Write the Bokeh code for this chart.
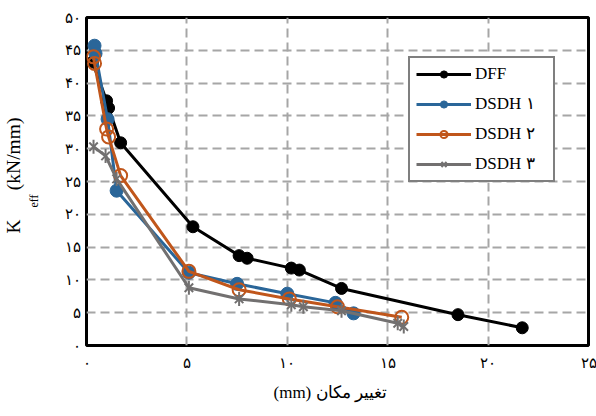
from bokeh.plotting import figure
from bokeh.models import Title, FixedTicker
from bokeh.embed import file_html
from bokeh.resources import INLINE

# ---- data ----
dff_x = [0.3, 1.0, 1.1, 1.7, 5.3, 7.6, 8.0, 10.2, 10.6, 12.7, 18.5, 21.7]
dff_y = [43.2, 37.3, 36.2, 30.9, 18.1, 13.7, 13.3, 11.8, 11.5, 8.7, 4.7, 2.7]

d1_x = [0.4, 0.45, 1.05, 1.5, 5.1, 7.5, 10.0, 12.4, 13.3]
d1_y = [45.7, 44.5, 34.5, 23.6, 11.1, 9.4, 7.9, 6.5, 4.9]

d2_x = [0.35, 0.4, 1.0, 1.1, 1.7, 5.1, 7.6, 10.1, 12.5, 15.7]
d2_y = [44.0, 43.0, 33.0, 31.8, 25.9, 11.3, 8.5, 7.1, 5.9, 4.3]

d3_x = [0.35, 0.95, 1.5, 5.1, 7.6, 10.2, 10.8, 12.7, 15.5, 15.8]
d3_y = [30.3, 28.9, 25.4, 8.8, 7.1, 6.2, 5.9, 5.3, 3.4, 2.9]

series_names = ["DFF", "DSDH ۱", "DSDH ۲", "DSDH ۳"]

x_ticks = [0, 5, 10, 15, 20, 25]
x_tick_labels = ["۰", "۵", "۱۰", "۱۵", "۲۰", "۲۵"]
y_ticks = [0, 5, 10, 15, 20, 25, 30, 35, 40, 45, 50]
y_tick_labels = ["۰", "۵", "۱۰", "۱۵", "۲۰", "۲۵", "۳۰", "۳۵", "۴۰", "۴۵", "۵۰"]

x_title = "(mm) تغییر مکان"
y_title_main = "K\u00a0\u00a0\u00a0\u00a0\u00a0\u00a0(kN/mm)"
y_title_sub = "eff" + "\u00a0" * 13

SERIF = "Liberation Serif"

p = figure(width=596, height=416, x_range=(0, 25), y_range=(0, 50),
           output_backend="svg", toolbar_location=None,
           min_border_left=86, min_border_right=8, min_border_top=17, min_border_bottom=71)

p.background_fill_color = "white"
p.outline_line_color = "black"
p.outline_line_width = 3

for ax in (p.xaxis[0], p.yaxis[0]):
    ax.axis_line_color = None
    ax.major_tick_line_color = None
    ax.minor_tick_line_color = None
    ax.major_tick_out = 0
    ax.major_tick_in = 0
    ax.major_label_text_font = SERIF
    ax.major_label_text_font_size = "15px"
    ax.major_label_text_color = "black"

p.xaxis.ticker = FixedTicker(ticks=x_ticks)
p.xaxis.major_label_overrides = dict(zip(x_ticks, x_tick_labels))
p.xaxis.major_label_standoff = 9
p.yaxis.ticker = FixedTicker(ticks=y_ticks)
p.yaxis.major_label_overrides = dict(zip(y_ticks, y_tick_labels))
p.yaxis.major_label_standoff = 6

# subscript of the y title sits in the axis-label slot, next to the tick labels
p.yaxis.axis_label = y_title_sub
p.yaxis.axis_label_text_font = SERIF
p.yaxis.axis_label_text_font_size = "12px"
p.yaxis.axis_label_text_font_style = "normal"
p.yaxis.axis_label_text_color = "black"
p.yaxis.axis_label_text_baseline = "top"
p.yaxis.axis_label_standoff = 21

for g in (p.xgrid[0], p.ygrid[0]):
    g.grid_line_color = "#a6a6a6"
    g.grid_line_width = 2
    g.grid_line_dash = "9 5"

# series
p.line(dff_x, dff_y, line_color="black", line_width=3, legend_label=series_names[0])
p.scatter(dff_x, dff_y, marker="circle", size=12, fill_color="black", line_color="black",
          legend_label=series_names[0])

blue = "#2a6699"
p.line(d1_x, d1_y, line_color=blue, line_width=3, legend_label=series_names[1])
p.scatter(d1_x, d1_y, marker="circle", size=13, fill_color=blue, line_color=blue,
          legend_label=series_names[1])

orange = "#c0561b"
p.line(d2_x, d2_y, line_color=orange, line_width=3, legend_label=series_names[2])
p.scatter(d2_x, d2_y, marker="circle", size=13, fill_color=None, line_color=orange, line_width=2,
          legend_label=series_names[2])

gray = "#727070"
p.line(d3_x, d3_y, line_color=gray, line_width=3, legend_label=series_names[3])
p.scatter(d3_x, d3_y, marker="x", size=12, line_color=gray, line_width=2,
          legend_label=series_names[3])
p.scatter(d3_x, d3_y, marker="dash", angle=1.5708, size=14, line_color=gray, line_width=2,
          legend_label=series_names[3])

lg = p.legend[0]
lg.location = (322, 163)
lg.label_text_font = SERIF
lg.label_text_font_size = "17px"
lg.label_text_color = "black"
lg.glyph_width = 55
lg.glyph_height = 18
lg.label_height = 18
lg.label_width = 72
lg.label_standoff = 4
lg.spacing = 9
lg.padding = 6
lg.margin = 0
lg.border_line_color = "black"
lg.border_line_width = 2.5
lg.background_fill_color = "white"
lg.background_fill_alpha = 1

# main part of the y title
t_main = Title(text=y_title_main, align="left", offset=112, standoff=0,
               text_font=SERIF, text_font_size="19.5px", text_font_style="normal",
               text_color="black")
p.add_layout(t_main, "left")

# x-axis title
t_x = Title(text=x_title, align="left", offset=187, standoff=15,
            text_font=SERIF, text_font_size="17px", text_font_style="normal",
            text_color="black")
p.add_layout(t_x, "below")

open("out.html", "w").write(file_html(p, INLINE))
